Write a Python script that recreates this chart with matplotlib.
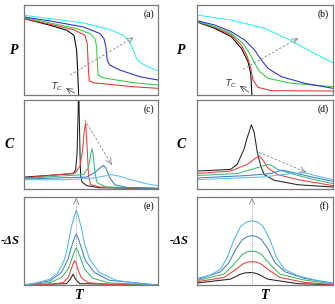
import matplotlib
matplotlib.use('Agg')
import matplotlib.pyplot as plt

# ---- data (T and quantity scaled 0-100 per panel) ----
# (a) P vs T, first-order like
a_black = [(0, 84.9), (19.4, 77.5), (31.8, 72.0), (37.2, 66.4), (39.2, 49.8), (40.0, 24.0), (40.7, 0)]
a_red = [(0, 84.9), (19.4, 78.6), (36.7, 72.7), (45.4, 66.4), (47.1, 57.2), (47.9, 31.4), (48.6, 15.5),
         (52, 13.5), (56.6, 12.9), (81.4, 9.2), (100, 7.4)]
a_green = [(0, 86.0), (19.4, 80.1), (39.2, 73.8), (49.1, 68.3), (52.9, 62.7), (54.1, 53.5), (54.8, 31.4),
           (55.3, 22.1), (58, 19.5), (61.5, 18.5), (81.4, 13.7), (100, 11.1)]
a_blue = [(0, 86.7), (19.4, 82.3), (44.2, 75.6), (56.6, 68.3), (59.6, 62.7), (61.0, 53.5), (62.0, 38.7),
          (64.0, 33.2), (71.5, 27.7), (86.4, 20.3), (100, 16.6)]
a_cyan = [(0, 88.6), (19.4, 84.9), (44.2, 80.1), (64.0, 72.7), (73.9, 66.4), (78.9, 59.0), (81.4, 49.8),
          (83.9, 40.6), (87.6, 35.1), (93.8, 30.6), (100, 26.9)]

# (b) P vs T, second-order like
b_black = [(0, 81.1), (13.0, 74.1), (25.2, 64.8), (32.6, 51.9), (37.5, 37.0), (39.5, 24.1), (40.4, 0)]
b_red = [(0, 81.5), (13.0, 75.2), (25.2, 66.7), (32.6, 55.6), (37.0, 42.6), (39.5, 29.6), (41.2, 16.7),
         (44.9, 8.5), (54.7, 4.8), (100, 4.4)]
b_green = [(0, 81.9), (13.0, 75.9), (25.2, 68.5), (33.8, 57.4), (38.7, 46.3), (42.4, 35.2), (46.1, 25.9),
           (52.2, 18.5), (69.4, 13.0), (100, 9.3)]
b_blue = [(0, 82.6), (13.0, 77.8), (25.2, 70.4), (35.0, 61.1), (42.4, 50.0), (47.3, 38.9), (52.2, 29.6),
          (62.0, 20.4), (79.2, 13.0), (100, 7.4)]
b_cyan = [(0, 88.9), (25.2, 83.3), (49.8, 74.1), (69.4, 60.4), (84.1, 48.1), (100, 35.9)]

# (c) C vs T
c_black = [(0, 13.5), (36.7, 17.3), (38.5, 22), (39.5, 40), (40.2, 80), (40.7, 120), (41.2, 80),
           (41.7, 40), (42.2, 15), (43.2, 8), (46.7, 3.8), (56.6, 1.5), (100, 0.5)]
c_red = [(0, 12.4), (38.0, 18.0), (41.7, 25.6), (43.7, 44.4), (44.7, 63.2), (45.9, 74.4), (47.1, 44.4),
         (48.1, 14.3), (49.6, 4.9), (56.6, 2.3), (100, 0.8)]
c_green = [(0, 12.0), (44.2, 16.2), (47.9, 23.7), (49.1, 33.1), (49.9, 40.6), (50.6, 45.1), (51.4, 40.6),
           (52.1, 29.3), (53.1, 16.2), (54.6, 6.8), (61.5, 2.3), (100, 0.8)]
c_blue = [(0, 11.3), (46.7, 13.5), (52.9, 18.8), (56.6, 23.7), (59.1, 26.7), (61.0, 23.7), (64.0, 12.4),
          (67.7, 4.9), (76.4, 1.9), (100, 0.8)]
c_lblue = [(0, 10.5), (31.8, 10.5), (51.6, 12.4), (61.5, 15.0), (65.3, 16.2), (71.5, 14.3), (81.4, 9.8),
           (91.3, 6.0), (100, 3.8)]

# (d) C vs T
d_black = [(0, 20.2), (24.7, 22.1), (29.6, 27.8), (34.6, 44.9), (37.0, 58.2), (38.3, 63.9), (40.0, 72.2),
           (42.0, 63.9), (44.4, 41.1), (46.9, 25.9), (49.4, 16.3), (56.8, 9.9), (74.1, 4.9), (100, 2.3)]
d_red = [(0, 17.5), (24.7, 20.2), (37.0, 27.8), (42.0, 33.5), (45.7, 37.3), (48.1, 33.5), (51.9, 24.0),
         (59.3, 16.3), (74.1, 10.6), (88.9, 6.8), (100, 3.8)]
d_green = [(0, 15.2), (29.6, 17.5), (44.4, 24.0), (49.4, 26.6), (53.1, 27.8), (55.6, 25.9), (59.3, 22.1),
           (69.1, 17.5), (84.0, 11.4), (100, 6.1)]
d_blue = [(0, 12.5), (37.0, 15.2), (54.3, 17.5), (63.0, 21.3), (69.1, 19.0), (84.0, 13.7), (100, 8.7)]
d_lblue = [(0, 10.6), (49.4, 13.7), (69.1, 17.5), (79.0, 18.3), (88.9, 14.4), (100, 10.6)]

# (e) -dS vs T
e_black = [(0, 0), (31.5, 1.5), (34.5, 6.5), (36.5, 12.3), (38.4, 6.5), (41.4, 1.5), (100, 0)]
e_red = [(0, 0), (19.2, 0.8), (29.1, 2.7), (32.8, 8.4), (35.2, 18.0), (36.6, 24.5), (37.7, 27.6),
         (38.9, 24.5), (40.1, 18.0), (42.6, 8.4), (47.5, 2.7), (63.5, 0.6), (100, 0)]
e_green = [(0, 0), (19.2, 2.7), (27.8, 8.4), (32.8, 18.0), (36.0, 31.4), (37.6, 38.5), (38.9, 42.1),
           (40.2, 38.5), (41.9, 31.4), (45.1, 18.0), (51.2, 7.7), (63.5, 2.3), (100, 0)]
e_blue = [(0, 0), (19.2, 4.6), (27.8, 14.2), (32.8, 29.5), (35.2, 42.9), (37.3, 52.5), (38.9, 58.2),
          (40.5, 52.5), (42.6, 42.9), (45.8, 27.6), (52.5, 14.2), (63.5, 5.4), (100, 0)]
e_lblue = [(0, 0), (6.9, 1.5), (19.2, 6.5), (25.4, 14.2), (30.3, 29.5), (32.8, 46.7), (35.2, 65.9),
           (37.4, 78.5), (38.9, 85.1), (40.4, 78.5), (42.6, 65.9), (45.1, 46.7), (48.8, 29.5), (56.2, 14.2),
           (68.5, 5.4), (85.7, 1.5), (100, 0)]

# (f) -dS vs T
f_black = [(0, 2.2), (24.7, 6.7), (32.1, 12.4), (35.5, 13.8), (39.0, 14.2), (42.0, 13.8), (45.0, 12.4),
           (51.9, 6.7), (74.1, 1.5), (100, 0.4)]
f_red = [(0, 3.7), (19.8, 8.6), (27.2, 16.1), (33.3, 23.6), (37.0, 26.0), (40.5, 26.6), (44.0, 26.0),
         (47.4, 23.6), (53.6, 16.1), (61.0, 8.6), (79.0, 3.0), (100, 0.4)]
f_green = [(0, 4.9), (19.8, 12.4), (27.2, 23.6), (33.3, 34.8), (37.0, 37.8), (40.5, 38.6), (44.0, 37.8),
           (47.4, 34.8), (53.6, 23.6), (61.0, 12.4), (79.0, 5.6), (100, 1.5)]
f_blue = [(0, 6.0), (17.3, 15.0), (23.5, 25.5), (28.4, 40.4), (33.3, 51.7), (37.0, 55.0), (40.5, 56.2),
          (44.0, 55.0), (47.4, 51.7), (52.4, 40.4), (57.3, 25.5), (64.7, 15.0), (79.0, 7.5), (100, 2.2)]
f_lblue = [(0, 7.5), (9.9, 11.2), (17.3, 18.0), (22.2, 31.1), (27.2, 51.7), (32.1, 66.7), (36.5, 71.8),
           (40.5, 73.0), (44.5, 71.8), (48.6, 66.7), (53.6, 51.7), (58.5, 31.1), (64.2, 18.0), (74.1, 10.5),
           (88.9, 4.9), (100, 1.1)]

# trend arrows (start, end) and Tc marks (text point, curve point)
a_arrow = [(34.2, 22.1), (81.4, 63.8)]
b_arrow = [(33.8, 28.5), (74.3, 63.0)]
c_arrow = [(45.4, 77.4), (65.3, 27.4)]
d_arrow = [(45.7, 41.1), (80.2, 19.0)]
e_peak_T = 38.9
f_peak_T = 40.5
a_tc = [(29.0, 9.0), (39.5, 0.5)]
b_tc = [(29.4, 12.0), (39.7, 1.5)]

top_colors = ['black', '#e8322e', '#2ecc40', '#2b2bd0', '#33eeee']
mid_colors = ['#222222', '#e8403a', '#3cb878', '#3d7fc4', '#5bbfe8']
bot_colors = ['#222222', '#e8403a', '#3cb860', '#4a7cc4', '#4fb8e8']

serif = 'Liberation Serif'

fig = plt.figure(figsize=(3.35, 3.04), dpi=100)
cols = [(0.072, 0.400), (0.588, 0.406)]
rows = [(0.6875, 0.296), (0.378, 0.293), (0.0625, 0.289)]

panels = [
    [a_black, a_red, a_green, a_blue, a_cyan],
    [b_black, b_red, b_green, b_blue, b_cyan],
    [c_black, c_red, c_green, c_blue, c_lblue],
    [d_black, d_red, d_green, d_blue, d_lblue],
    [e_black, e_red, e_green, e_blue, e_lblue],
    [f_black, f_red, f_green, f_blue, f_lblue],
]
letters = ['(a)', '(b)', '(c)', '(d)', '(e)', '(f)']
ylabels = ['P', 'P', 'C', 'C', '-ΔS', '-ΔS']
# right edge of each y label, in axes fraction
ylab_x = [-0.045, -0.085, -0.075, -0.08, -0.03, -0.06]
palettes = [top_colors, top_colors, mid_colors, mid_colors, bot_colors, bot_colors]
arrows = [a_arrow, b_arrow, c_arrow, d_arrow]

axes = []
for i in range(6):
    r, c = divmod(i, 2)
    ax = fig.add_axes([cols[c][0], rows[r][0], cols[c][1], rows[r][1]])
    axes.append(ax)
    for curve, col in zip(panels[i], palettes[i]):
        xs = [p[0] for p in curve]
        ys = [p[1] for p in curve]
        ax.plot(xs, ys, color=col, lw=0.75, solid_joinstyle='round')
    ax.set_xlim(0, 100)
    ax.set_ylim(0, 100)
    ax.set_xticks([])
    ax.set_yticks([])
    for s in ax.spines.values():
        s.set_color('#7a7a7a')
        s.set_linewidth(0.9)
    ax.text(0.97, 0.95, letters[i], transform=ax.transAxes, ha='right', va='top',
            fontsize=7, family=serif)
    fs = 9 if ylabels[i] == '-ΔS' else 10
    ax.text(ylab_x[i], 0.5, ylabels[i], transform=ax.transAxes, ha='right', va='center',
            fontsize=fs, family=serif, fontweight='bold', fontstyle='italic')
    if i < 4:
        (x0, y0), (x1, y1) = arrows[i]
        ax.plot([x0, x1], [y0, y1], color='#888888', lw=0.6, ls=(0, (3, 2)))
        ax.annotate('', xy=(x1, y1), xytext=(x0 + 0.93 * (x1 - x0), y0 + 0.93 * (y1 - y0)),
                    arrowprops=dict(arrowstyle='->', color='#888888', lw=0.6))
    else:
        pk = e_peak_T if i == 4 else f_peak_T
        ax.plot([pk, pk], [0, 96], color='#888888', lw=0.6, ls=(0, (1, 1.5)))
        ax.annotate('', xy=(pk, 99), xytext=(pk, 94),
                    arrowprops=dict(arrowstyle='->', color='#888888', lw=0.6))
        tx = 0.41 if i == 4 else 0.5
        ax.text(tx, -0.04, 'T', transform=ax.transAxes, ha='center', va='top',
                fontsize=10, family=serif, fontweight='bold', fontstyle='italic')

for ax, tc in zip(axes[:2], [a_tc, b_tc]):
    (tx, ty), (px, py) = tc
    ax.text(tx, ty, r'$T_C$', ha='right', va='center', fontsize=6.5, color='#333333')
    ax.annotate('', xy=(tx + 0.5, ty), xytext=(px, py),
                arrowprops=dict(arrowstyle='->', color='#333333', lw=0.5))

fig.savefig('out.png', dpi=100)
